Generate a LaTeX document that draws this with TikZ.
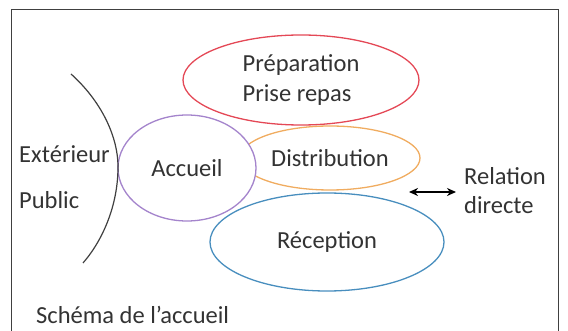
\documentclass[tikz,border=0pt]{standalone}
\usepackage{fontspec}
\setmainfont{Carlito}
\usetikzlibrary{shapes.geometric,arrows.meta}

\definecolor{rougeprep}{RGB}{228,72,86}
\definecolor{orangedist}{RGB}{240,172,96}
\definecolor{violetacc}{RGB}{164,132,204}
\definecolor{bleurecep}{RGB}{72,142,190}

\tikzset{x=1pt, y=-1pt,
  every node/.append style={font=\fontsize{24.5}{30}\selectfont, text=black!80},
  bulle/.style={ellipse, inner sep=0pt, line width=1.3pt},
  texte/.style={anchor=west, inner sep=0pt},
  fleche/.style={<->, >={Stealth[length=9pt,width=8pt]}, line width=1.6pt}}

\begin{document}
\begin{tikzpicture}
    \useasboundingbox (0,0) rectangle (568,331);
    % cadre
    \draw[black!75, line width=1pt] (11,331) -- (11,10) -- (558,10) -- (558,331);

    % les zones
    \node[bulle, draw=orangedist, minimum width=180pt, minimum height=64pt] (dist) at (330,158) {Distribution};
    \node[bulle, draw=rougeprep, minimum width=236pt, minimum height=90pt, align=left] (prep) at (301,80) {Préparation\\Prise repas};
    \node[bulle, draw=violetacc, fill=white, minimum width=138pt, minimum height=106pt] (acc) at (187,168) {Accueil};
    \node[bulle, draw=bleurecep, minimum width=234pt, minimum height=98pt] (recep) at (327,242) {Réception};

    % limite exterieur
    \coordinate (limH) at (71,74);
    \coordinate (limM) at (118,167);
    \coordinate (limB) at (83,263);
    \draw[black!75, line width=1.2pt] (limH) .. controls (100,100) and (118,135) .. (limM)
                                     .. controls (118,205) and (103,240) .. (limB);

    \node[texte] (ext) at (19,154) {Extérieur};
    \node[texte] (pub) at (19,200) {Public};

    % legende
    \node[texte] (rel) at (464,176) {Relation};
    \node[texte] (dir) at (464,205) {directe};
    \coordinate (flG) at (409,192);
    \coordinate (flD) at (456,192);
    \draw[fleche] (flG) -- (flD);

    \node[texte] (titre) at (36,315) {Schéma de l’accueil};
\end{tikzpicture}
\end{document}
